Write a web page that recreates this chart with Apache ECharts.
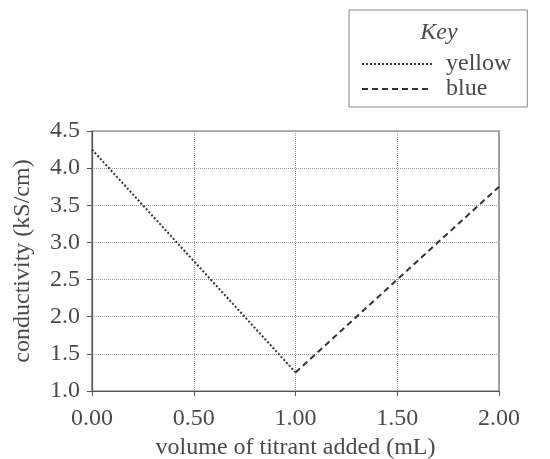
<!DOCTYPE html>
<html>
<head>
<meta charset="utf-8">
<script src="https://cdn.jsdelivr.net/npm/echarts@6/dist/echarts.min.js"></script>
<style>
  html, body { margin: 0; padding: 0; background: #fff; }
  #chart { width: 550px; height: 459px; }
</style>
</head>
<body>
<div id="chart"></div>
<script>
// data
const yellowX = [0.0, 1.0];
const yellowY = [4.25, 1.25];
const blueX = [1.0, 2.0];
const blueY = [1.25, 3.75];
const seriesNames = ["yellow", "blue"];

const fontFamily = "Liberation Serif";
const textColor = "#4a4a4a";

function pairs(xs, ys) {
  return xs.map((x, i) => [x, ys[i]]);
}

let chart = echarts.init(document.getElementById("chart"));
chart.setOption({
  animation: false,
  backgroundColor: "#fff",
  textStyle: { fontFamily: fontFamily, color: textColor },
  grid: {
    left: 92,
    right: 51,
    top: 131,
    bottom: 68,
    outerBoundsMode: "none",
    show: true,
    borderColor: "#666",
    borderWidth: 1.2,
  },
  legend: {
    orient: "vertical",
    left: 349,
    top: 10,
    padding: [42, 16, 6, 12],
    itemGap: 1,
    itemWidth: 70,
    itemHeight: 14,
    borderColor: "#888",
    borderWidth: 1,
    itemStyle: { opacity: 0 },
    textStyle: { fontFamily: fontFamily, fontSize: 24, color: textColor, padding: [0, 0, 0, 9] },
    data: seriesNames,
  },
  graphic: [
    {
      type: "text",
      x: 439,
      y: 33,
      style: {
        text: "Key",
        font: "italic 24px 'Liberation Serif'",
        fill: textColor,
        textAlign: "center",
        textVerticalAlign: "middle",
      },
    },
  ],
  xAxis: {
    type: "value",
    min: 0,
    max: 2,
    interval: 0.5,
    name: "volume of titrant added (mL)",
    nameLocation: "middle",
    nameGap: 45,
    nameTextStyle: { fontSize: 24, color: textColor },
    axisLine: { lineStyle: { color: "#555", width: 1.2 } },
    axisTick: { show: true, inside: false, length: 5, lineStyle: { color: "#555" } },
    axisLabel: {
      fontSize: 24,
      color: textColor,
      margin: 16,
      formatter: (v) => v.toFixed(2),
    },
    splitLine: { show: true, lineStyle: { color: "#999", type: "dotted", width: 1 } },
  },
  yAxis: {
    type: "value",
    min: 1.0,
    max: 4.5,
    interval: 0.5,
    name: "conductivity (kS/cm)",
    nameLocation: "middle",
    nameGap: 57,
    nameTextStyle: { fontSize: 24, color: textColor },
    axisLine: { show: true, lineStyle: { color: "#555", width: 1.2 } },
    axisTick: { show: true, inside: false, length: 5, lineStyle: { color: "#555" } },
    axisLabel: {
      fontSize: 24,
      color: textColor,
      margin: 12,
      formatter: (v) => v.toFixed(1),
    },
    splitLine: { show: true, lineStyle: { color: "#999", type: "dotted", width: 1 } },
  },
  series: [
    {
      name: seriesNames[0],
      type: "line",
      symbol: "none",
      data: pairs(yellowX, yellowY),
      lineStyle: { color: "#333", width: 2, type: [2, 2] },
      itemStyle: { color: "#333" },
    },
    {
      name: seriesNames[1],
      type: "line",
      symbol: "none",
      data: pairs(blueX, blueY),
      lineStyle: { color: "#333", width: 2, type: [6, 4] },
      itemStyle: { color: "#333" },
    },
  ],
});
</script>
</body>
</html>
